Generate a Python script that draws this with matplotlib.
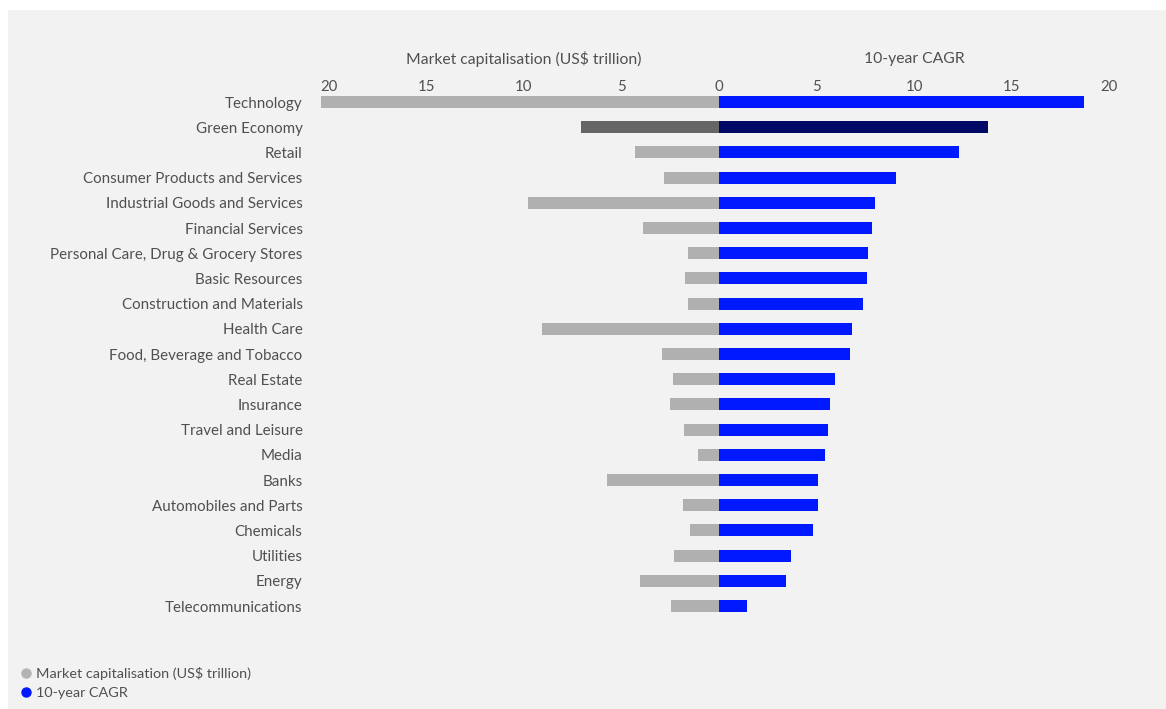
import matplotlib.pyplot as plt
import matplotlib.patches as mpatches
from matplotlib.lines import Line2D
import numpy as np

plt.rcParams['font.family'] = ['Lato', 'DejaVu Sans']

sectors = ['Technology', 'Green Economy', 'Retail', 'Consumer Products and Services',
           'Industrial Goods and Services', 'Financial Services',
           'Personal Care, Drug & Grocery Stores', 'Basic Resources',
           'Construction and Materials', 'Health Care', 'Food, Beverage and Tobacco',
           'Real Estate', 'Insurance', 'Travel and Leisure', 'Media', 'Banks',
           'Automobiles and Parts', 'Chemicals', 'Utilities', 'Energy', 'Telecommunications']
market_cap = [20.4, 7.1, 4.3, 2.8, 9.8, 3.9, 1.6, 1.75, 1.6, 9.1, 2.9,
              2.35, 2.5, 1.8, 1.1, 5.75, 1.85, 1.5, 2.3, 4.05, 2.45]
cagr = [18.7, 13.8, 12.3, 9.1, 8.0, 7.85, 7.65, 7.6, 7.4, 6.8, 6.7,
        5.95, 5.7, 5.6, 5.45, 5.1, 5.1, 4.8, 3.7, 3.45, 1.45]
highlight = 'Green Economy'
ticks = [-20, -15, -10, -5, 0, 5, 10, 15, 20]

bg = '#f2f2f2'
txt = '#505050'
grey = '#b0b0b0'
blue = '#0019ff'

fig = plt.figure(figsize=(11.66, 7.09), dpi=100)
fig.patch.set_facecolor('white')
fig.add_artist(mpatches.Rectangle((8 / 1166, 0), 1, 1 - 10 / 709,
                                  transform=fig.transFigure, facecolor=bg,
                                  edgecolor='none', zorder=0))

ax = fig.add_axes([0.2738, 0.1275, 0.6857, 0.7464])
ax.set_facecolor('none')

y = np.arange(len(sectors))
left_colors = ['#666666' if s == highlight else grey for s in sectors]
right_colors = ['#000a66' if s == highlight else blue for s in sectors]
ax.barh(y, [-v for v in market_cap], height=0.48, color=left_colors)
ax.barh(y, cagr, height=0.48, color=right_colors)

ax.set_xlim(-20.5, 20.5)
ax.set_ylim(len(sectors) - 0.5, -0.5)
ax.set_yticks(y)
ax.set_yticklabels(sectors)
ax.set_xticks(ticks)
ax.set_xticklabels([str(abs(t)) for t in ticks])
ax.xaxis.tick_top()
ax.tick_params(axis='x', length=0, pad=-3.5, labelsize=10.8, colors=txt)
ax.tick_params(axis='y', length=0, pad=12, labelsize=10.9, colors=txt)
for sp in ax.spines.values():
    sp.set_visible(False)

tr = ax.get_xaxis_transform()
ax.text(-10, 1.058, 'Market capitalisation (US$ trillion)', transform=tr,
        ha='center', va='center', fontsize=11.3, color=txt)
ax.text(10, 1.058, '10-year CAGR', transform=tr,
        ha='center', va='center', fontsize=11.3, color=txt)

handles = [Line2D([], [], marker='o', linestyle='none', markersize=6.5, color='#b3b3b3'),
           Line2D([], [], marker='o', linestyle='none', markersize=6.5, color=blue)]
fig.legend(handles, ['Market capitalisation (US$ trillion)', '10-year CAGR'],
           loc='lower left', bbox_to_anchor=(0.006, 0.0), frameon=False,
           fontsize=10.4, labelcolor=txt, handletextpad=0.1, handlelength=1.2,
           labelspacing=0.5, borderaxespad=0.3)

fig.savefig('out.png', dpi=100, facecolor=fig.get_facecolor())
